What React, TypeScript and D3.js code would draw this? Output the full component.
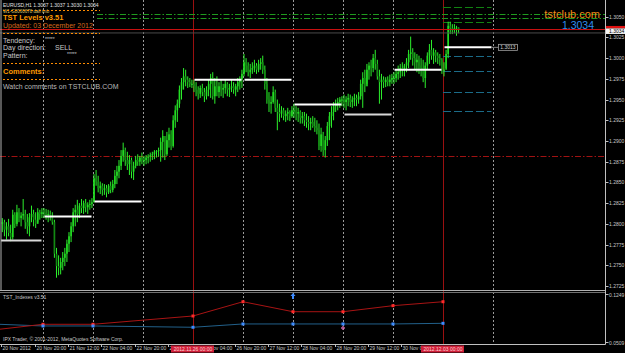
import React, { useEffect } from "react";
import * as d3 from "d3";

const W = 625;
const H = 353;

// ---------------- data ----------------
const dayNames = ["20 Nov", "21 Nov", "22 Nov", "23 Nov", "26 Nov", "27 Nov", "28 Nov", "29 Nov", "30 Nov", "03 Dec", "04 Dec"];
const weekStartDays = [4, 9];
const firstBarHour = 4;
const openFirst = 1.28;

const highs = [
  1.2807, 1.2805, 1.2802, 1.2806, 1.2799, 1.2817, 1.2814, 1.2823, 1.2819, 1.2814, 1.283, 1.2817, 1.2812, 1.2813, 1.2822, 1.2817, 1.2814, 1.2819, 1.2817, 1.2819,
  1.2819, 1.2818, 1.2817, 1.2816, 1.2814, 1.2805, 1.2771, 1.2762, 1.2759, 1.2766, 1.2771, 1.2781, 1.279, 1.2802, 1.2819, 1.2823, 1.2829, 1.2825, 1.283, 1.2828, 1.283, 1.2826, 1.2829, 1.2831,
  1.286, 1.2865, 1.2858, 1.2851, 1.2849, 1.2848, 1.2847, 1.2848, 1.2851, 1.2853, 1.2865, 1.287, 1.2877, 1.2889, 1.2898, 1.2892, 1.2887, 1.2883, 1.288, 1.2875, 1.2882, 1.2884, 1.2882, 1.2886,
  1.2882, 1.2883, 1.2884, 1.2886, 1.2887, 1.2889, 1.2889, 1.2892, 1.2904, 1.2913, 1.2906, 1.2911, 1.2916, 1.2913, 1.2931, 1.2943, 1.295, 1.2967, 1.2976, 1.2988, 1.2986, 1.2978, 1.2976, 1.2974,
  1.2974, 1.2971, 1.2966, 1.2967, 1.2969, 1.2964, 1.2966, 1.2974, 1.2981, 1.2983, 1.2976, 1.2978, 1.2971, 1.2974, 1.2969, 1.2974, 1.2971, 1.2969, 1.2974, 1.2971, 1.2969, 1.2976, 1.2978, 1.2986,
  1.3005, 1.3, 1.2995, 1.2993, 1.2995, 1.2998, 1.2994, 1.2998, 1.3, 1.3003, 1.2991, 1.2976, 1.2959, 1.2954, 1.2966, 1.2962, 1.295, 1.2945, 1.2942, 1.294, 1.2937, 1.294, 1.2937, 1.2942,
  1.2945, 1.2942, 1.294, 1.2937, 1.2935, 1.2935, 1.2933, 1.293, 1.2928, 1.293, 1.2928, 1.2925, 1.2921, 1.2916, 1.2911, 1.2906, 1.2923, 1.2935, 1.2942, 1.2947, 1.295, 1.2952, 1.2953, 1.2954,
  1.2956, 1.2954, 1.2957, 1.2956, 1.2954, 1.2957, 1.2956, 1.2959, 1.2974, 1.2983, 1.2986, 1.2993, 1.2995, 1.2998, 1.3005, 1.301, 1.2998, 1.2986, 1.2981, 1.2978, 1.2977, 1.2978, 1.298, 1.2981,
  1.2983, 1.2986, 1.2991, 1.2993, 1.2995, 1.2993, 1.3, 1.301, 1.3026, 1.3012, 1.3007, 1.3005, 1.3003, 1.3, 1.2998, 1.2995, 1.3007, 1.3017, 1.3022, 1.3012, 1.301, 1.3007, 1.3005, 1.3,
  1.2995, 1.301, 1.3044, 1.3044, 1.3041, 1.3041, 1.3039, 1.3037,
];
const lows = [
  1.279, 1.2785, 1.2781, 1.2785, 1.2779, 1.2781, 1.2795, 1.2797, 1.2802, 1.2797, 1.2805, 1.2794, 1.2788, 1.2785, 1.2802, 1.2797, 1.2795, 1.2802, 1.2805, 1.2807,
  1.2807, 1.2805, 1.2802, 1.2804, 1.2799, 1.2759, 1.2735, 1.2738, 1.2739, 1.2744, 1.2749, 1.2754, 1.2766, 1.2778, 1.279, 1.2797, 1.2802, 1.2807, 1.2813, 1.2812, 1.2814, 1.2812, 1.2817, 1.2819,
  1.2826, 1.2846, 1.2838, 1.2836, 1.2834, 1.2835, 1.2832, 1.2836, 1.2837, 1.2838, 1.2843, 1.2848, 1.2855, 1.2865, 1.2875, 1.287, 1.2865, 1.2859, 1.2855, 1.2853, 1.2867, 1.287, 1.287, 1.2872,
  1.287, 1.2872, 1.2873, 1.2875, 1.2877, 1.2878, 1.288, 1.2881, 1.2875, 1.288, 1.2877, 1.2882, 1.2892, 1.2889, 1.2892, 1.2916, 1.2923, 1.294, 1.295, 1.2962, 1.2966, 1.2964, 1.2965, 1.2964,
  1.2959, 1.2954, 1.295, 1.2952, 1.2954, 1.2947, 1.295, 1.2954, 1.2952, 1.295, 1.2945, 1.2954, 1.2952, 1.2954, 1.2952, 1.2957, 1.2954, 1.2953, 1.2959, 1.2957, 1.2954, 1.2959, 1.2962, 1.2964,
  1.2978, 1.2983, 1.2978, 1.2976, 1.2981, 1.2983, 1.2981, 1.2983, 1.2986, 1.2981, 1.2962, 1.2945, 1.2935, 1.2933, 1.2945, 1.2935, 1.2913, 1.2923, 1.2928, 1.2925, 1.2923, 1.2925, 1.2924, 1.2928,
  1.2928, 1.2925, 1.2923, 1.2921, 1.2921, 1.2918, 1.2916, 1.2913, 1.2913, 1.2916, 1.2911, 1.2908, 1.2889, 1.2887, 1.2882, 1.288, 1.2894, 1.2901, 1.2916, 1.2925, 1.2935, 1.2937, 1.294, 1.2942,
  1.294, 1.2937, 1.2942, 1.2941, 1.294, 1.2942, 1.2942, 1.2945, 1.295, 1.294, 1.2959, 1.2969, 1.2974, 1.2978, 1.2983, 1.2986, 1.2974, 1.2945, 1.295, 1.2964, 1.2965, 1.2966, 1.2966, 1.2969,
  1.2969, 1.2971, 1.2974, 1.2976, 1.2978, 1.2978, 1.2983, 1.2988, 1.2998, 1.2991, 1.2986, 1.2983, 1.2981, 1.2978, 1.2971, 1.2964, 1.2986, 1.2993, 1.2998, 1.2993, 1.2995, 1.2993, 1.2991, 1.2981,
  1.2978, 1.2988, 1.3, 1.3029, 1.3029, 1.303, 1.3027, 1.303,
];
const closes = [
  1.2802, 1.2793, 1.2797, 1.2789, 1.2784, 1.2811, 1.28, 1.2814, 1.2807, 1.281, 1.2812, 1.2802, 1.2797, 1.2808, 1.2812, 1.2805, 1.28, 1.2814, 1.2812, 1.2814,
  1.2813, 1.2811, 1.2812, 1.281, 1.2802, 1.2764, 1.2749, 1.2747, 1.2754, 1.2759, 1.2764, 1.2776, 1.2785, 1.2797, 1.2814, 1.2817, 1.2812, 1.2822, 1.2819, 1.2825, 1.282, 1.2823, 1.2824, 1.2826,
  1.2855, 1.2851, 1.2843, 1.2846, 1.2841, 1.2843, 1.2838, 1.2846, 1.2841, 1.2848, 1.2858, 1.2863, 1.287, 1.2882, 1.2889, 1.2877, 1.2872, 1.2877, 1.2863, 1.287, 1.2877, 1.2875, 1.288, 1.2877,
  1.2877, 1.288, 1.2881, 1.2883, 1.2884, 1.2887, 1.2888, 1.2889, 1.2899, 1.2906, 1.2884, 1.2901, 1.2908, 1.2894, 1.2925, 1.2937, 1.2945, 1.2962, 1.2971, 1.2978, 1.2974, 1.2971, 1.2969, 1.2969,
  1.2966, 1.2962, 1.2957, 1.2964, 1.2959, 1.2954, 1.2962, 1.2969, 1.2976, 1.2954, 1.2966, 1.2959, 1.2966, 1.2962, 1.2964, 1.2969, 1.2962, 1.2964, 1.2966, 1.2962, 1.2966, 1.2971, 1.2974, 1.2981,
  1.2995, 1.2991, 1.2983, 1.2986, 1.2988, 1.2991, 1.2986, 1.2993, 1.2995, 1.2986, 1.2969, 1.295, 1.2945, 1.2947, 1.2959, 1.294, 1.2935, 1.2933, 1.2937, 1.293, 1.2933, 1.2935, 1.293, 1.2937,
  1.2937, 1.2933, 1.2935, 1.2928, 1.293, 1.2925, 1.2923, 1.2921, 1.2923, 1.2918, 1.2916, 1.2913, 1.2894, 1.2908, 1.2889, 1.2901, 1.2918, 1.293, 1.2935, 1.2942, 1.2945, 1.2947, 1.295, 1.295,
  1.2947, 1.295, 1.2952, 1.2947, 1.295, 1.2952, 1.295, 1.2954, 1.2969, 1.2976, 1.2966, 1.2986, 1.2991, 1.2988, 1.3, 1.2993, 1.2978, 1.2971, 1.2974, 1.2971, 1.2974, 1.2971, 1.2974, 1.2976,
  1.2976, 1.2981, 1.2983, 1.2988, 1.2986, 1.2991, 1.2995, 1.3005, 1.3007, 1.3, 1.2995, 1.2998, 1.2991, 1.2988, 1.2976, 1.2991, 1.3003, 1.301, 1.3003, 1.3007, 1.3003, 1.3, 1.2998, 1.2986,
  1.2986, 1.3005, 1.3039, 1.3036, 1.3034, 1.3036, 1.3037, 1.3034,
];

const priceTicks = [1.305, 1.3025, 1.3, 1.2975, 1.295, 1.2925, 1.29, 1.2875, 1.285, 1.2825, 1.28, 1.2775, 1.275, 1.2725];
const bidPrice = 1.3034;
const shadowPrice = 1.3031;
const levelDays = [0, 1, 2, 4, 5, 6, 7, 8, 9];
const levelValues = [1.278, 1.2809, 1.2827, 1.2974, 1.2974, 1.2944, 1.2932, 1.2986, 1.3013];
const projGreen = [1.3062, 1.3044];
const projTeal = [1.3003, 1.2984, 1.2959, 1.2936];
const dashDotGreen = [1.3053, 1.3048];
const dashDotRed = [1.2882];
const levelLabel = "1.3013";

const timeLabelText = ["20 Nov 2012", "20 Nov 20:00", "21 Nov 12:00", "22 Nov 04:00", "22 Nov 20:00", "23 Nov 12:00", "26 Nov 04:00", "26 Nov 20:00", "27 Nov 12:00", "28 Nov 04:00", "28 Nov 20:00", "29 Nov 12:00", "30 Nov 04:00"];
const timeLabelBars = [0, 16, 32, 48, 64, 80, 96, 112, 128, 144, 160, 176, 192];
const weekLabelText = ["2012.11.26 00:00", "2012.12.03 00:00"];

const indBars = [-1, 20, 44, 92, 116, 140, 164, 188, 212];
const indRed = [0.0705, 0.0782, 0.0782, 0.091, 0.113, 0.0976, 0.0976, 0.1069, 0.113];
const indBlue = [0.0782, 0.0756, 0.0756, 0.0736, 0.0787, 0.0787, 0.0787, 0.0787, 0.0797];
const indDots = [false, true, true, true, true, true, true, true, true];
const indTicks = [0.1249, 0.0509];
const arrowBar = 140;
const markerBar = 164;
const markerValue = 0.0725;

// ---------------- layout ----------------
const AX = 605.5; // right axis line
const MAIN_BOTTOM = 290;
const IND_TOP = 293;
const IND_BOTTOM = 344.5;
const FONT = "'Liberation Sans', Arial, sans-serif";

const xScale = d3.scaleLinear().domain([0, 290]).range([1.33, AX]);
const yScale = d3.scaleLinear().domain([1.2725, 1.305]).range([286, 16.7]);
const yInd = d3.scaleLinear().domain([0.0509, 0.1249]).range([342, 294]);
const dayStart = (d: number) => d * 24 - firstBarHour;

export default function App() {
  useEffect(() => {
    document.body.style.margin = "0";
    document.body.style.background = "#000";
  }, []);

  const bars = highs.map((h, i) => {
    const o = i === 0 ? openFirst : closes[i - 1];
    const c = closes[i];
    return { i, o, h, l: lows[i], c };
  });

  const redLine = d3.line<number>().x((_, k) => xScale(indBars[k])).y((v) => yInd(v))(indRed) || "";
  const blueLine = d3.line<number>().x((_, k) => xScale(indBars[k])).y((v) => yInd(v))(indBlue) || "";

  const ax = xScale(arrowBar);
  const mx = xScale(markerBar);
  const my = yInd(markerValue);

  const lvlEndX = xScale(dayStart(10)) - 1.5;
  const lvlY = yScale(levelValues[levelValues.length - 1]);

  const wkX = weekStartDays.map((d) => xScale(dayStart(d)));

  return (
    <svg width={W} height={H} style={{ display: "block", position: "absolute", left: 0, top: 0, background: "#000" }} fontFamily={FONT}>
      <defs>
        <clipPath id="mainClip">
          <rect x={0} y={0} width={AX} height={MAIN_BOTTOM} />
        </clipPath>
        <clipPath id="indClip">
          <rect x={0} y={IND_TOP} width={AX} height={IND_BOTTOM - IND_TOP} />
        </clipPath>
        <clipPath id="timeClip">
          <rect x={0} y={IND_BOTTOM} width={wkX[0] - 22} height={H - IND_BOTTOM} />
          <rect x={wkX[0] + 21} y={IND_BOTTOM} width={wkX[1] - 22 - (wkX[0] + 21)} height={H - IND_BOTTOM} />
          <rect x={wkX[1] + 21} y={IND_BOTTOM} width={W - wkX[1] - 21} height={H - IND_BOTTOM} />
        </clipPath>
      </defs>
      <rect x={0} y={0} width={W} height={H} fill="#000" />

      {/* day separators */}
      {dayNames.map((d, k) => {
        if (k === 0) return null;
        const x = Math.round(xScale(dayStart(k))) + 0.5;
        const wk = weekStartDays.includes(k);
        return (
          <line key={d} x1={x} x2={x} y1={0} y2={IND_BOTTOM} stroke={wk ? "#9a1010" : "#9a9a9a"} strokeWidth={1} strokeDasharray={wk ? undefined : "2,2"} />
        );
      })}

      <g clipPath="url(#mainClip)">
        {/* horizontal reference lines */}
        {dashDotRed.map((p) => (
          <line key={"dr" + p} x1={0} x2={AX} y1={Math.round(yScale(p)) + 0.5} y2={Math.round(yScale(p)) + 0.5} stroke="#a01212" strokeDasharray="6,2,1.5,2" />
        ))}
        {dashDotGreen.map((p) => (
          <line key={"dg" + p} x1={97} x2={AX} y1={Math.round(yScale(p)) + 0.5} y2={Math.round(yScale(p)) + 0.5} stroke="#1f9a1f" strokeDasharray="6,2,1.5,2" />
        ))}
        {projGreen.map((p) => (
          <line key={"pg" + p} x1={xScale(dayStart(9))} x2={lvlEndX} y1={Math.round(yScale(p)) + 0.5} y2={Math.round(yScale(p)) + 0.5} stroke="#128212" strokeDasharray="8,3" />
        ))}
        {projTeal.map((p) => (
          <line key={"pt" + p} x1={xScale(dayStart(9))} x2={lvlEndX} y1={Math.round(yScale(p)) + 0.5} y2={Math.round(yScale(p)) + 0.5} stroke="#1b6b88" strokeDasharray="8,3" />
        ))}

        {/* candles */}
        {bars.map((b) => {
          const x = xScale(b.i);
          const up = b.c >= b.o;
          const yt = yScale(Math.max(b.o, b.c));
          const yb = yScale(Math.min(b.o, b.c));
          return (
            <g key={b.i}>
              <line x1={x + 1} x2={x + 1} y1={yScale(b.h)} y2={yScale(b.l)} stroke="#2cf02c" strokeWidth={1} />
              <rect x={x + 0.25} y={yt} width={1.6} height={Math.max(1, yb - yt)} fill={up ? "#22dd22" : "#138a13"} />
            </g>
          );
        })}

        {/* daily levels */}
        {levelDays.map((d, k) => {
          const x1 = Math.max(1, xScale(dayStart(d)) + 1.5);
          const x2 = xScale(dayStart(d + 1)) - 1.5;
          const y = yScale(levelValues[k]);
          return <line key={"lv" + d} x1={x1} x2={x2} y1={y} y2={y} stroke={d === 0 || d === 7 ? "#d8d8d8" : "#ffffff"} strokeWidth={2} />;
        })}

        {/* level label */}
        <line x1={lvlEndX} x2={lvlEndX + 7} y1={lvlY} y2={lvlY} stroke="#808080" />
        <rect x={lvlEndX + 7} y={lvlY - 3} width={19} height={6} fill="#000" stroke="#a0a0a0" strokeWidth={0.8} />
        <text x={lvlEndX + 16.5} y={lvlY + 2} fontSize={5} fill="#d0d0d0" textAnchor="middle">{levelLabel}</text>

        {/* bid line */}
        <line x1={0} x2={AX} y1={yScale(shadowPrice) + 0.5} y2={yScale(shadowPrice) + 0.5} stroke="#4a4a4a" />
        <line x1={0} x2={AX} y1={Math.round(yScale(bidPrice)) - 0.5} y2={Math.round(yScale(bidPrice)) - 0.5} stroke="#c81010" />

        {/* left border */}
        <line x1={1} x2={1} y1={0} y2={MAIN_BOTTOM} stroke="#b0b0b0" />
      </g>

      {/* info panel */}
      <g fontFamily={FONT}>
        <text x={3} y={7} fontSize={5} fill="#e0e0e0">EURUSD,H1  1.3037 1.3037 1.3030 1.3034</text>
        <text x={3} y={12.5} fontSize={4.5} fill="#d8c870">W1-G8060678 dall tmb</text>
        {[10, 33, 63, 79].map((y) => (
          <line key={"od" + y} x1={3} x2={100} y1={y + 0.5} y2={y + 0.5} stroke="#ff8c00" strokeDasharray="2,2" />
        ))}
        <text x={3} y={20} fontSize={7.5} fontWeight="bold" fill="#ff9a00">TST Levels v3.51</text>
        <text x={3} y={28} fontSize={7} fill="#d2691e">Updated:   03 December 2012</text>
        <text x={3} y={42.5} fontSize={7} fill="#c8c8c8">Tendency:</text>
        <text x={45} y={40.5} fontSize={5} fill="#c8c8c8">*****</text>
        <text x={3} y={50} fontSize={7} fill="#c8c8c8">Day direction:</text>
        <text x={55} y={50} fontSize={7} fill="#c8c8c8">SELL</text>
        <text x={3} y={57.5} fontSize={7} fill="#c8c8c8">Pattern:</text>
        <text x={67} y={56} fontSize={5} fill="#c8c8c8">*****</text>
        <text x={3} y={74} fontSize={7.5} fontWeight="bold" fill="#ff9a00">Comments:</text>
        <text x={3} y={89} fontSize={7} fill="#b8b8b8">Watch comments on TSTCLUB.COM</text>
        <text x={600} y={17.5} fontSize={11} fill="#f08c1a" textAnchor="end">tstclub.com</text>
        <text x={594} y={28.5} fontSize={10.5} fill="#2f8ff0" textAnchor="end">1.3034</text>
      </g>

      {/* window separators & frame */}
      <line x1={0} x2={AX} y1={290.5} y2={290.5} stroke="#b0b0b0" />
      <line x1={0} x2={AX} y1={292.5} y2={292.5} stroke="#707070" />
      <line x1={0} x2={AX} y1={IND_BOTTOM} y2={IND_BOTTOM} stroke="#c0c0c0" />
      <line x1={AX} x2={AX} y1={0} y2={IND_BOTTOM} stroke="#c0c0c0" />

      {/* price axis */}
      {priceTicks.map((p) => {
        const y = Math.round(yScale(p)) + 0.5;
        return (
          <g key={"pt" + p}>
            <line x1={AX} x2={AX + 3} y1={y} y2={y} stroke="#c0c0c0" />
            <text x={AX + 3.5} y={y + 1.8} fontSize={5} fill="#c8c8c8">{p.toFixed(4)}</text>
          </g>
        );
      })}
      <rect x={AX + 0.5} y={yScale(bidPrice) - 4} width={19} height={2.5} fill="#e01010" />
      <rect x={AX + 0.5} y={yScale(bidPrice) - 1.5} width={19} height={5.5} fill="#f4f4f4" />
      <text x={AX + 3.5} y={yScale(bidPrice) + 3} fontSize={5} fill="#000">{bidPrice.toFixed(4)}</text>

      {/* indicator window */}
      <g clipPath="url(#indClip)">
        <path d={blueLine} fill="none" stroke="#22608a" strokeWidth={1} />
        <path d={redLine} fill="none" stroke="#a81414" strokeWidth={1} />
        {indBars.map((b, k) =>
          indDots[k] ? (
            <g key={"dot" + b}>
              <rect x={xScale(b) - 1.5} y={yInd(indRed[k]) - 1.5} width={3} height={3} fill="#ff2a2a" />
              <rect x={xScale(b) - 1.5} y={yInd(indBlue[k]) - 1.5} width={3} height={3} fill="#3d8bff" />
            </g>
          ) : null
        )}
        <path d={`M${ax},${IND_TOP} L${ax + 2.5},${IND_TOP + 3} L${ax + 1},${IND_TOP + 3} L${ax + 1},${IND_TOP + 6} L${ax - 1},${IND_TOP + 6} L${ax - 1},${IND_TOP + 3} L${ax - 2.5},${IND_TOP + 3} Z`} fill="#3d8bff" />
        <g stroke="#b060c0" strokeWidth={0.8}>
          <line x1={mx - 2} x2={mx + 2} y1={my} y2={my} />
          <line x1={mx} x2={mx} y1={my - 2} y2={my + 2} />
          <circle cx={mx} cy={my} r={1.3} fill="none" stroke="#e070a0" />
        </g>
        <text x={3} y={298.5} fontSize={5} fill="#c8c8c8">TST_Indexes v3.51</text>
        <text x={3} y={341} fontSize={5} fill="#c8c8c8">IPX Trader, © 2001-2012, MetaQuotes Software Corp.</text>
      </g>
      {indTicks.map((v) => (
        <g key={"it" + v}>
          <line x1={AX} x2={AX + 3} y1={Math.round(yInd(v)) + 0.5} y2={Math.round(yInd(v)) + 0.5} stroke="#c0c0c0" />
          <text x={AX + 3.5} y={yInd(v) + 2.5} fontSize={5} fill="#c8c8c8">{v.toFixed(4)}</text>
        </g>
      ))}

      {/* time axis */}
      <g clipPath="url(#timeClip)">
        {timeLabelText.map((t, k) => {
          const x = Math.round(xScale(timeLabelBars[k])) + 0.5;
          return (
            <g key={t}>
              <line x1={x} x2={x} y1={IND_BOTTOM} y2={IND_BOTTOM + 2.5} stroke="#c0c0c0" />
              <text x={x + 1} y={350} fontSize={5} fill="#c8c8c8">{t}</text>
            </g>
          );
        })}
      </g>
      {weekLabelText.map((t, k) => {
        const x = wkX[k];
        return (
          <g key={t}>
            <rect x={x - 22} y={345.5} width={43} height={7} fill="#d0203a" />
            <text x={x} y={350.5} fontSize={5} fill="#ffd0d0" textAnchor="middle">{t}</text>
          </g>
        );
      })}
    </svg>
  );
}
